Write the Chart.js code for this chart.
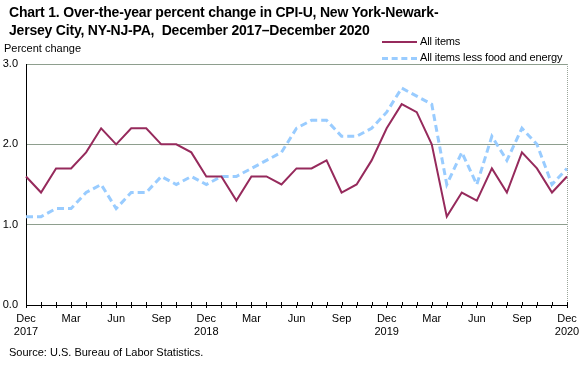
<!DOCTYPE html>
<html>
<head>
<meta charset="utf-8">
<script src="https://cdn.jsdelivr.net/npm/chart.js@4"></script>
<style>
html,body{margin:0;padding:0;background:#fff;}
#wrap{position:relative;width:588px;height:365px;font-family:"Liberation Sans",Arial,sans-serif;color:#000;}
#c{position:absolute;left:0;top:0;}
.t{position:absolute;white-space:nowrap;}
#title{left:9px;top:3px;font-weight:bold;font-size:14px;line-height:18px;letter-spacing:-0.2px;}
#ylab{left:4px;top:42px;font-size:11px;}
#src{left:9px;top:346px;font-size:11px;}
.leg{position:absolute;left:382px;font-size:11px;white-space:nowrap;letter-spacing:-0.15px;}
.leg span.s{display:inline-block;width:35px;height:0;vertical-align:middle;margin-right:3px;}
</style>
</head>
<body>
<div id="wrap">
<canvas id="c" width="588" height="365"></canvas>
<div class="t" id="title">Chart 1. Over-the-year percent change in CPI-U, New York-Newark-<br>Jersey City, NY-NJ-PA,&nbsp; December 2017–December 2020</div>
<div class="t" id="ylab">Percent change</div>
<div class="leg" style="top:35px;"><span class="s" style="border-top:2px solid #962a5c;"></span>All items</div>
<div class="leg" style="top:51px;"><span class="s" style="border-top:3px dashed #99ccff;"></span>All items less food and energy</div>
<div class="t" id="src">Source: U.S. Bureau of Labor Statistics.</div>
</div>
<script>
const months = ["Dec 2017","Jan 2018","Feb 2018","Mar 2018","Apr 2018","May 2018","Jun 2018","Jul 2018","Aug 2018","Sep 2018","Oct 2018","Nov 2018",
"Dec 2018","Jan 2019","Feb 2019","Mar 2019","Apr 2019","May 2019","Jun 2019","Jul 2019","Aug 2019","Sep 2019","Oct 2019","Nov 2019",
"Dec 2019","Jan 2020","Feb 2020","Mar 2020","Apr 2020","May 2020","Jun 2020","Jul 2020","Aug 2020","Sep 2020","Oct 2020","Nov 2020","Dec 2020"];
const allItems = [1.6,1.4,1.7,1.7,1.9,2.2,2.0,2.2,2.2,2.0,2.0,1.9,
1.6,1.6,1.3,1.6,1.6,1.5,1.7,1.7,1.8,1.4,1.5,1.8,
2.2,2.5,2.4,2.0,1.1,1.4,1.3,1.7,1.4,1.9,1.7,1.4,1.6];
const coreItems = [1.1,1.1,1.2,1.2,1.4,1.5,1.2,1.4,1.4,1.6,1.5,1.6,
1.5,1.6,1.6,1.7,1.8,1.9,2.2,2.3,2.3,2.1,2.1,2.2,
2.4,2.7,2.6,2.5,1.5,1.9,1.5,2.1,1.8,2.2,2.0,1.5,1.7];
const tickLabels = {"Dec 2017":["Dec","2017"],"Mar 2018":"Mar","Jun 2018":"Jun","Sep 2018":"Sep",
"Dec 2018":["Dec","2018"],"Mar 2019":"Mar","Jun 2019":"Jun","Sep 2019":"Sep",
"Dec 2019":["Dec","2019"],"Mar 2020":"Mar","Jun 2020":"Jun","Sep 2020":"Sep","Dec 2020":["Dec","2020"]};
const yTicks = [0,1,2,3];

const frame = {
  id:'frame',
  afterDraw(chart){
    const a = chart.chartArea, ctx = chart.ctx;
    ctx.save();
    ctx.strokeStyle = '#9aa59a';
    ctx.lineWidth = 1;
    ctx.setLineDash([1,1]);
    ctx.beginPath();
    ctx.moveTo(Math.round(a.right)+0.5, a.top);
    ctx.lineTo(Math.round(a.right)+0.5, a.bottom);
    ctx.stroke();
    ctx.setLineDash([]);
    // small upward tick marks crossing the x axis
    const xs = chart.scales.x;
    ctx.strokeStyle = '#000';
    ctx.beginPath();
    for (let i = 0; i < months.length; i++) {
      const x = Math.round(xs.getPixelForValue(i)) + 0.5;
      ctx.moveTo(x, a.bottom - 3);
      ctx.lineTo(x, a.bottom);
    }
    ctx.stroke();
    ctx.restore();
  }
};

new Chart(document.getElementById('c'), {
  type:'line',
  data:{
    labels: months,
    datasets:[
      {label:'All items', data: allItems, borderColor:'#962a5c', borderWidth:2, pointRadius:0, tension:0, fill:false},
      {label:'All items less food and energy', data: coreItems, borderColor:'#99ccff', borderWidth:3, borderDash:[7,4], pointRadius:0, tension:0, fill:false}
    ]
  },
  options:{
    responsive:false, animation:false, devicePixelRatio:1,
    layout:{padding:{top:64,right:21,left:0,bottom:0}},
    plugins:{legend:{display:false}, title:{display:false}, tooltip:{enabled:false}},
    scales:{
      x:{
        type:'category', offset:false,
        grid:{drawOnChartArea:false, drawTicks:true, tickLength:3, color:'#000', lineWidth:1},
        border:{display:true, color:'#000', width:1},
        ticks:{autoSkip:false, maxRotation:0, minRotation:0, padding:5, color:'#000',
          font:{family:'"Liberation Sans", Arial, sans-serif', size:11, lineHeight:1.15},
          callback:function(v,i){ const l = months[i]; return tickLabels[l] !== undefined ? tickLabels[l] : ''; }},
        afterFit(s){ s.height = 60; }
      },
      y:{
        min:0, max:3,
        afterBuildTicks(s){ s.ticks = yTicks.map(v=>({value:v})); },
        grid:{drawTicks:false, color:(c)=> c.tick && c.tick.value===0 ? 'rgba(0,0,0,0)' : '#8e9e8e', lineWidth:1},
        border:{display:true, color:'#000', width:1},
        ticks:{padding:8, color:'#000', font:{family:'"Liberation Sans", Arial, sans-serif', size:11},
          callback:(v)=>Number(v).toFixed(1)},
        afterFit(s){ s.width = 26; }
      }
    }
  },
  plugins:[frame]
});
</script>
</body>
</html>
